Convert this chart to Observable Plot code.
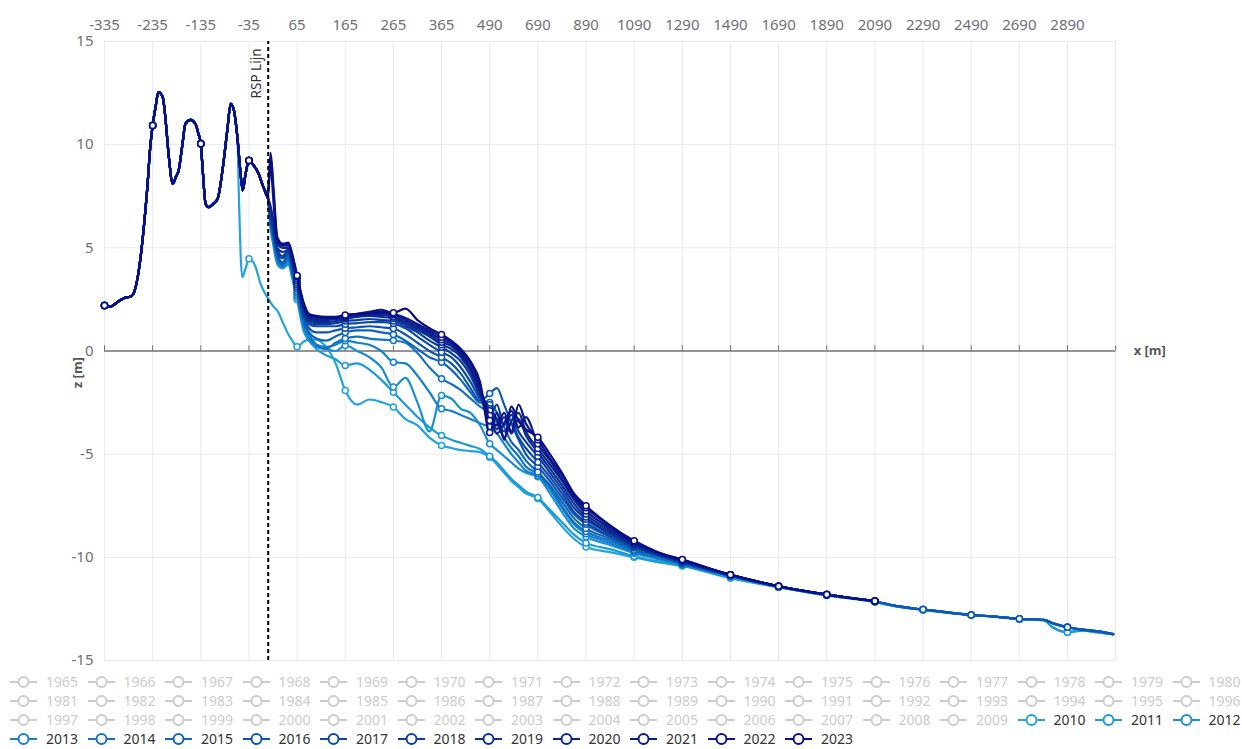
<!DOCTYPE html>
<html>
<head>
<meta charset="utf-8">
<script src="https://cdn.jsdelivr.net/npm/d3@7"></script>
<script src="https://cdn.jsdelivr.net/npm/@observablehq/plot@0.6"></script>
<style>
  html, body { margin: 0; padding: 0; background: #fff; overflow: hidden; }
  #legend { font-family: "Noto Sans", sans-serif; font-size: 14px; padding-left: 10px; margin-top: 0px; }
  .row { white-space: nowrap; height: 19px; line-height: 19px; }
  .item { display: inline-flex; align-items: center; width: 77.5px; height: 19px; vertical-align: top; }
  .item svg { flex: none; }
  .item span { margin-left: 9px; }
</style>
</head>
<body>
<div id="chart"></div>
<div id="legend"></div>
<script>
// ---------------- data ----------------
const years = [2010, 2011, 2012, 2013, 2014, 2015, 2016, 2017, 2018, 2019, 2020, 2021, 2022, 2023];
const legendYears = d3.range(1965, 2024);

const xTicks = [-335, -235, -135, -35, 65, 165, 265, 365, 490, 690, 890, 1090, 1290, 1490, 1690, 1890, 2090, 2290, 2490, 2690, 2890];
const xEnd = 3090;
const yTicks = [-15, -10, -5, 0, 5, 10, 15];
const rspX = 5;

// dune part, common to all surveys
const xDune = [-335,-322,-308,-295,-281,-275,-266,-260,-254,-246,-240,-235,-229,-223,-214,-208,-202,-193,-187,-181,-173,-167,-156,-146,-140,-135,-131,-125,-119,-109,-100,-90,-80,-73,-67,-59,-53,-48,-42,-35,-25,-15,-5,4];
const zDune = [2.2,2.16,2.37,2.56,2.64,2.77,3.58,4.55,5.84,7.94,9.88,10.93,11.82,12.55,12.3,11.17,9.56,8.1,8.43,8.75,10.04,11.01,11.2,11.0,10.53,10.04,8.75,7.13,6.97,7.13,7.38,8.75,10.69,11.98,11.74,10.36,8.75,7.78,8.59,9.23,8.99,8.59,7.94,7.46];
// 2010 dune front (eroded)
const xDune2010 = [-56, -49, -42, -35, -21, -11, 3];
const zDune2010 = [7.6, 3.58, 4.0, 4.47, 4.06, 3.26, 2.61];

// beach and foreshore
const xSea = [10,16,24,35,47,55,65,78,90,105,125,145,165,190,215,240,265,290,315,340,365,390,415,440,465,490,520,550,580,610,640,690,740,790,840,890,990,1090,1190,1290];
const z2010 = [2.35,2.15,1.96,1.4,0.8,0.5,0.2, 0.45,0.55,0.55,0.2,-0.6,-1.91,-2.6,-2.35,-2.48,-2.72,-3.3,-3.6,-4.2,-4.58, -4.7,-4.8,-4.85,-4.9,-5.15,-5.5,-5.9,-6.3,-6.6,-6.9,-7.15,-7.8,-8.5,-9.1,-9.5, -9.75,-10.0,-10.24,-10.42];
const z2011 = [5.9,5.1,4.2,4.0,4.2,3.5,2.5, 1.0,0.5,0.1,-0.2,-0.4,-0.7,-0.6,-0.9,-1.4,-2.0,-2.6,-3.2,-3.7,-4.1, -4.3,-4.45,-4.6,-4.75,-5.1,-5.4,-5.8,-6.2,-6.5,-6.8,-7.1,-7.7,-8.3,-8.9,-9.3, -9.6,-9.95,-10.2,-10.4];
const z2012 = [6.0,5.2,4.3,4.05,4.3,3.6,2.6, 1.2,0.5,0.2,0.1,0.0,0.27,0.0,-0.3,-0.8,-1.75,-1.3,-2.5,-3.9,-2.16, -2.3,-2.8,-3.0,-3.6,-4.5,-4.8,-5.1,-5.4,-5.7,-5.9,-6.1,-6.9,-7.8,-8.6,-9.0, -9.4,-9.8,-10.1,-10.37];
const z2013 = [6.1,5.3,4.4,4.1,4.4,3.7,2.7, 1.3,0.6,0.3,0.2,0.3,0.5,0.4,0.3,0.0,-0.54,-0.6,-1.2,-2.0,-2.8, -2.9,-3.1,-3.3,-3.5,-3.7,-4.0,-4.5,-5.0,-5.4,-5.8,-6.03,-6.7,-7.6,-8.4,-8.86, -9.3,-9.75,-10.05,-10.35];
const z2014 = [6.2,5.4,4.5,4.15,4.5,3.8,2.8, 1.4,0.8,0.3,0.1,0.4,0.6,0.7,0.6,0.55,0.51,0.4,-0.1,-0.8,-1.35, -1.6,-1.9,-2.3,-2.7,-3.0,-3.5,-4.2,-4.7,-5.1,-5.6,-5.95,-6.6,-7.5,-8.3,-8.75, -9.2,-9.7,-10.0,-10.32];
const z2015 = [6.3,5.5,4.6,4.2,4.6,3.9,2.9, 1.5,0.9,0.6,0.5,0.7,0.9,1.0,1.0,0.9,0.8,0.5,0.1,-0.3,-0.54, -0.9,-1.4,-2.0,-2.5,-2.5,-3.0,-3.7,-4.4,-4.8,-5.3,-5.87,-6.5,-7.3,-8.1,-8.6, -9.1,-9.65,-9.95,-10.3];
const z2016 = [6.4,5.6,4.7,4.3,4.7,4.0,3.0, 1.6,1.1,0.9,0.9,1.0,1.1,1.15,1.2,1.15,1.09,0.8,0.4,0.0,-0.3, -0.6,-1.1,-1.8,-2.4,-2.06,-1.8,-2.6,-3.5,-4.3,-5.0,-5.6,-6.3,-7.1,-7.9,-8.4, -9.0,-9.55,-9.92,-10.27];
const z2017 = [6.5,5.7,4.8,4.5,4.8,4.1,3.1, 1.8,1.3,1.2,1.2,1.2,1.3,1.35,1.4,1.4,1.33,1.1,0.7,0.3,-0.06, -0.3,-0.8,-1.5,-2.3,-2.6,-3.4,-3.9,-3.5,-4.2,-4.7,-5.39,-6.1,-6.9,-7.8,-8.3, -8.95,-9.5,-9.9,-10.25];
const z2018 = [6.6,5.8,4.9,4.6,4.85,4.2,3.2, 1.9,1.4,1.3,1.3,1.35,1.45,1.5,1.55,1.5,1.45,1.2,0.9,0.5,0.18, -0.1,-0.5,-1.2,-2.2,-3.2,-2.6,-3.6,-3.1,-3.9,-4.4,-5.1,-5.9,-6.7,-7.6,-8.15, -8.85,-9.45,-9.87,-10.22];
const z2019 = [6.9,6.0,5.0,4.8,4.9,4.3,3.3, 2.0,1.5,1.4,1.4,1.45,1.55,1.65,1.7,1.65,1.57,1.3,1.0,0.7,0.3, 0.1,-0.3,-1.0,-2.1,-2.8,-3.8,-3.2,-4.0,-3.3,-4.1,-4.9,-5.7,-6.5,-7.4,-8.05, -8.8,-9.4,-9.85,-10.2];
const z2020 = [7.0,6.3,5.2,5.0,5.0,4.4,3.4, 2.1,1.6,1.5,1.5,1.55,1.6,1.7,1.75,1.75,1.65,1.4,1.1,0.8,0.43, 0.25,-0.2,-0.9,-2.0,-2.9,-3.3,-4.2,-3.4,-3.0,-3.9,-4.73,-5.5,-6.3,-7.2,-7.9, -8.7,-9.35,-9.82,-10.17];
const z2021 = [9.0,7.2,5.3,5.1,5.1,4.5,3.5, 2.2,1.7,1.6,1.6,1.6,1.65,1.75,1.8,1.85,1.75,1.5,1.2,0.9,0.55, 0.35,-0.1,-0.8,-1.9,-3.13,-4.0,-3.5,-2.9,-3.7,-3.2,-4.5,-5.3,-6.2,-7.1,-7.75, -8.6,-9.3,-9.8,-10.15];
const z2022 = [9.4,7.6,5.4,5.15,5.2,4.6,3.6, 2.3,1.75,1.65,1.6,1.6,1.7,1.8,1.9,2.0,1.8,1.6,1.3,1.0,0.67, 0.45,0.0,-0.6,-1.7,-3.37,-3.6,-3.0,-3.9,-2.6,-3.5,-4.3,-5.2,-6.0,-7.0,-7.6, -8.5,-9.25,-9.78,-10.12];
const z2023 = [9.6,7.9,5.5,5.2,5.25,4.7,3.66, 2.4,1.8,1.7,1.65,1.65,1.75,1.8,1.85,1.9,1.85,2.05,1.5,1.1,0.8, 0.5,0.1,-0.5,-1.5,-3.95,-3.0,-4.3,-2.7,-3.4,-3.8,-4.18,-5.0,-5.9,-6.9,-7.5, -8.45,-9.2,-9.75,-10.1];
const seaByYear = [z2010, z2011, z2012, z2013, z2014, z2015, z2016, z2017, z2018, z2019, z2020, z2021, z2022, z2023];

// offshore
const xOffFull = [1490,1690,1890,2090,2190,2290,2490,2590,2690,2790,2830,2890,2950,3010,3080];
const zOffLight = [-11.0,-11.45,-11.85,-12.17,-12.4,-12.55,-12.8,-12.88,-13.0,-13.05,-13.4,-13.63,-13.55,-13.63,-13.74];
const zOffMid = [-10.9,-11.42,-11.82,-12.14,-12.38,-12.53,-12.79,-12.87,-12.98,-13.03,-13.2,-13.39,-13.5,-13.58,-13.72];
const xOffShort = [1490,1690,1890,2090];
const zOffDark = [-10.85,-11.4,-11.8,-12.12];

// style
const colors = ["#22a3dd","#1c9ad8","#1990d3","#1581cc","#1273c4","#0f65bc","#0d57b2","#0c49a8","#0b3c9f","#0b3097","#0b2590","#0b1c8b","#0b1588","#0a0f85"];

// ---------------- build rows ----------------
function profile(i) {
  const yr = years[i];
  const pts = [];
  if (yr === 2010) {
    xDune.forEach((x, j) => { if (x <= -59) pts.push({x, z: zDune[j]}); });
    xDune2010.forEach((x, j) => pts.push({x, z: zDune2010[j]}));
  } else {
    xDune.forEach((x, j) => pts.push({x, z: zDune[j]}));
  }
  xSea.forEach((x, j) => pts.push({x, z: seaByYear[i][j]}));
  let xo, zo;
  if (yr <= 2011) { xo = xOffFull; zo = zOffLight; }
  else if (yr <= 2016) { xo = xOffFull; zo = zOffMid; }
  else { xo = xOffShort; zo = zOffDark; }
  xo.forEach((x, j) => pts.push({x, z: zo[j]}));
  return pts;
}
const tickSet = new Set(xTicks);

const seriesMarks = [];
years.forEach((yr, i) => {
  const pts = profile(i);
  seriesMarks.push(Plot.line(pts, {x: "x", y: "z", stroke: colors[i], strokeWidth: 2.2, curve: "monotone-x"}));
  seriesMarks.push(Plot.dot(pts.filter(d => tickSet.has(d.x)), {x: "x", y: "z", r: 3, fill: "white", stroke: colors[i], strokeWidth: 1.5}));
});

const gridColor = "#e6e9f1";
const axisColor = "#6e7079";

const chart = Plot.plot({
  width: 1242,
  height: 672,
  marginLeft: 104,
  marginRight: 127,
  marginTop: 41,
  marginBottom: 12,
  x: {type: "linear", domain: [-335, 365, 490, xEnd], range: [104, 441.05, 489.2, 1115.15], label: null},
  y: {domain: [-15, 15], range: [660, 41], label: null},
  style: {fontFamily: "'Noto Sans', sans-serif", fontSize: "15px", color: axisColor, background: "white"},
  marks: [
    Plot.ruleX([...xTicks, xEnd], {y1: -15, y2: 15, stroke: gridColor, strokeWidth: 1}),
    Plot.ruleY(yTicks.filter(d => d !== 0), {x1: -335, x2: xEnd, stroke: gridColor, strokeWidth: 1}),
    Plot.ruleY([0], {x1: -335, x2: xEnd, stroke: axisColor, strokeWidth: 1.5}),
    Plot.ruleX([...xTicks, xEnd], {y1: 0, y2: 0.25, stroke: axisColor, strokeWidth: 1}),
    ...seriesMarks,
    Plot.ruleX([rspX], {y1: -15, y2: 15, stroke: "black", strokeWidth: 2, strokeDasharray: "4,3"}),
    Plot.text(["RSP Lijn"], {x: rspX, y: 15, text: d => d, rotate: -90, textAnchor: "end", dx: -12, dy: 7, fill: "#333", fontSize: 13.5}),
    Plot.axisX(xTicks, {anchor: "top", tickSize: 0, tickPadding: 12, tickFormat: d => String(d), fill: axisColor, fontSize: 15, label: null}),
    Plot.axisY(yTicks, {anchor: "left", tickSize: 0, tickPadding: 11, tickFormat: d => String(d), fill: axisColor, fontSize: 15, label: null}),
    Plot.text(["x [m]"], {x: xEnd, y: 0, text: d => d, dx: 18, textAnchor: "start", fontWeight: "bold", fill: "#555", fontSize: 13}),
    Plot.text(["z [m]"], {x: -335, y: -1.05, text: d => d, dx: -27, rotate: -90, fontWeight: "bold", fill: "#555", fontSize: 13})
  ]
});
document.getElementById("chart").appendChild(chart);

// ---------------- legend ----------------
const legend = document.getElementById("legend");
const perRow = 16;
for (let r = 0; r < Math.ceil(legendYears.length / perRow); r++) {
  const row = document.createElement("div");
  row.className = "row";
  legendYears.slice(r * perRow, (r + 1) * perRow).forEach(yr => {
    const idx = years.indexOf(yr);
    const col = idx >= 0 ? colors[idx] : "#cccccc";
    const txt = idx >= 0 ? "#333333" : "#cccccc";
    const item = document.createElement("span");
    item.className = "item";
    item.innerHTML = `<svg width="27" height="14"><line x1="0" x2="27" y1="7" y2="7" stroke="${col}" stroke-width="2"/><circle cx="13.5" cy="7" r="5" fill="white" stroke="${col}" stroke-width="2"/></svg><span style="color:${txt}">${yr}</span>`;
    row.appendChild(item);
  });
  legend.appendChild(row);
}
</script>
</body>
</html>
